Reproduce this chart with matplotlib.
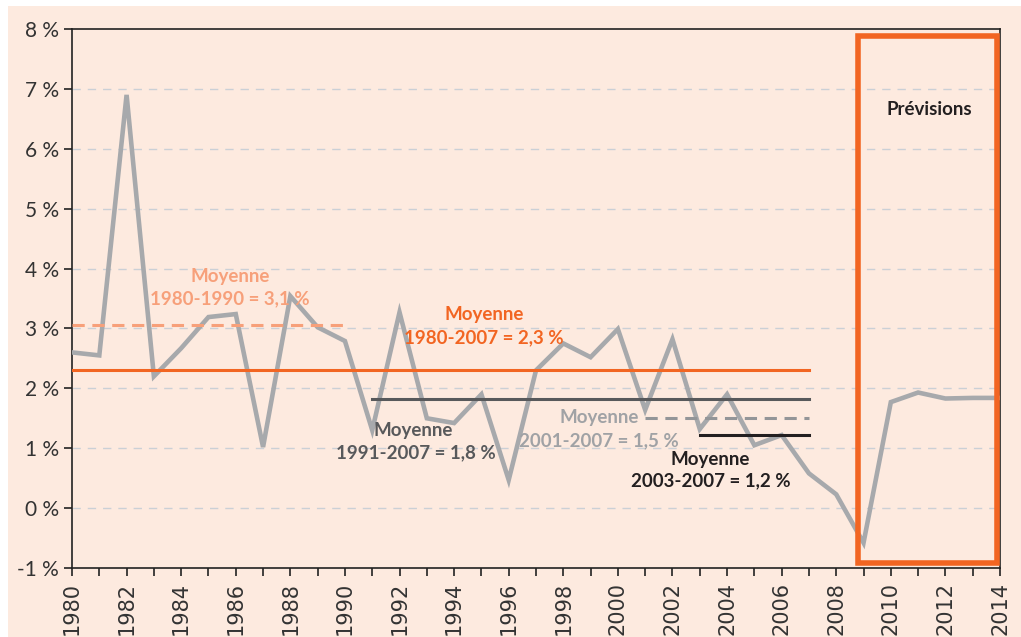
import matplotlib
matplotlib.use("Agg")
import matplotlib.pyplot as plt
from matplotlib.patches import Rectangle

years = list(range(1980, 2015))
growth = [2.60, 2.55, 6.90, 2.20, 2.67, 3.19, 3.24, 1.02, 3.54, 3.02,
          2.79, 1.30, 3.27, 1.50, 1.42, 1.90, 0.47, 2.30, 2.75, 2.52,
          2.99, 1.64, 2.82, 1.32, 1.90, 1.05, 1.22, 0.58, 0.23, -0.58,
          1.77, 1.93, 1.83, 1.84, 1.84]

# mean segments: (start, end, value)
mean_all = (1980, 2007, 2.30)
mean_80_90 = (1980, 1990, 3.05)
mean_91_07 = (1991, 2007, 1.82)
mean_01_07 = (2001, 2007, 1.50)
mean_03_07 = (2003, 2007, 1.22)

forecast_box = (2008.8, 2013.88, -0.92, 7.88)

yticks = list(range(-1, 9))
ytick_labels = [f"{v} %" for v in yticks]
xticks_major = list(range(1980, 2015, 2))

peach = "#FDEADF"
orange = "#F26522"
light_orange = "#F7A07A"
fig = plt.figure(figsize=(10.21, 6.37), dpi=100, facecolor="white")
fig.patches.append(Rectangle((8/1021, 0), 1, 1 - 6/637, transform=fig.transFigure,
                             facecolor=peach, edgecolor="none", zorder=-10))
ax = fig.add_axes([72/1021, 1 - 568/637, 928/1021, 539/637])
ax.set_zorder(1)
ax.set_facecolor(peach)

ax.set_xlim(1980, 2014)
ax.set_ylim(-1, 8)
ax.set_yticks(yticks)
ax.set_yticklabels(ytick_labels, fontfamily="Lato", fontsize=15, color="#333333")
ax.set_xticks(xticks_major)
ax.set_xticklabels([str(y) for y in xticks_major], rotation=90,
                   fontfamily="Liberation Sans Narrow", fontsize=15, color="#333333")
ax.set_xticks(years, minor=True)
ax.tick_params(axis="both", which="both", direction="out", length=6, width=1.2, color="#222222")
ax.tick_params(axis="x", which="both", pad=4)
for s in ax.spines.values():
    s.set_color("#222222")
    s.set_linewidth(1.2)

for v in yticks[1:-1]:
    ax.axhline(v, color="#CBD0D6", lw=1.0, ls=(0, (6, 5)), zorder=1)

ax.plot(years, growth, color="#A7A9AC", lw=3.3, zorder=3, solid_joinstyle="miter")

ax.plot(mean_all[:2], [mean_all[2]] * 2, color=orange, lw=2.2, zorder=4)
ax.plot(mean_80_90[:2], [mean_80_90[2]] * 2, color=light_orange, lw=2.2, ls=(0, (4, 2.5)), zorder=4)
ax.plot(mean_91_07[:2], [mean_91_07[2]] * 2, color="#58595B", lw=2.2, zorder=4)
ax.plot(mean_01_07[:2], [mean_01_07[2]] * 2, color="#939598", lw=2.2, ls=(0, (4, 2.5)), zorder=4)
ax.plot(mean_03_07[:2], [mean_03_07[2]] * 2, color="#231F20", lw=2.2, zorder=4)

x0, x1, y0, y1 = forecast_box
ax.add_patch(Rectangle((x0, y0), x1 - x0, y1 - y0, facecolor="none",
                       edgecolor=orange, lw=4, zorder=5, clip_on=False))

fkw = dict(fontfamily="Lato", fontweight="bold", fontsize=13.5, ha="center", va="center", zorder=6)
ax.text(1985.8, 3.86, "Moyenne", color=light_orange, **fkw)
ax.text(1985.8, 3.50, "1980-1990 = 3,1 %", color=light_orange, **fkw)
ax.text(1995.1, 3.23, "Moyenne", color=orange, **fkw)
ax.text(1995.1, 2.85, "1980-2007 = 2,3 %", color=orange, **fkw)
ax.text(1992.5, 1.30, "Moyenne", color="#58595B", **fkw)
ax.text(1992.6, 0.93, "1991-2007 = 1,8 %", color="#58595B", **fkw)
ax.text(1999.3, 1.52, "Moyenne", color="#A0A2A5", **fkw)
ax.text(1999.3, 1.13, "2001-2007 = 1,5 %", color="#A0A2A5", **fkw)
ax.text(2003.4, 0.82, "Moyenne", color="#231F20", **fkw)
ax.text(2003.4, 0.45, "2003-2007 = 1,2 %", color="#231F20", **fkw)
ax.text(2011.4, 6.65, "Prévisions", color="#231F20", **fkw)

fig.savefig("out.png", dpi=100, facecolor=fig.get_facecolor())
